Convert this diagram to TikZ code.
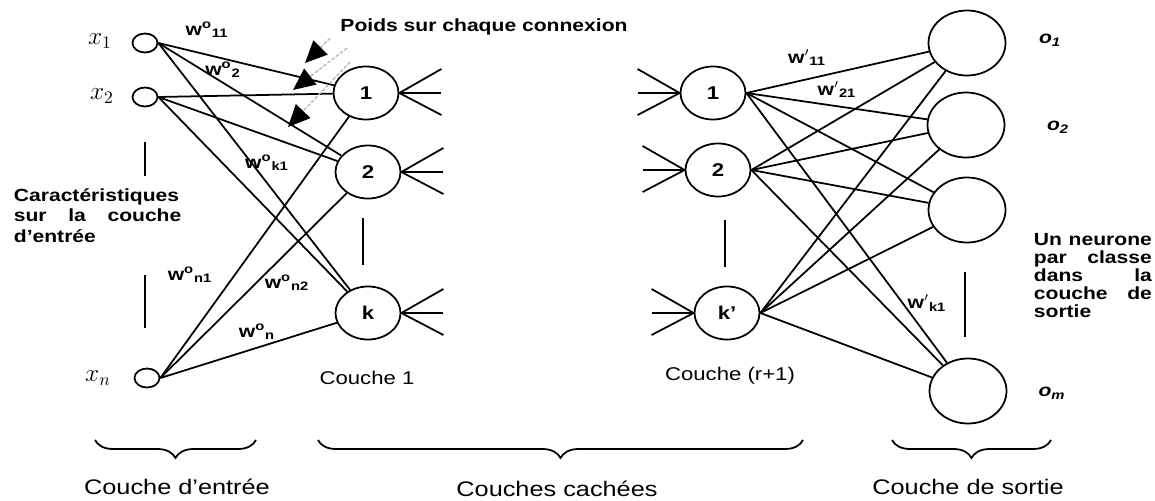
\documentclass[tikz,border=0pt]{standalone}
\usepackage{amsmath}
\usepackage{fontspec}
\setmainfont{Liberation Sans}[FakeStretch=1.2]
\usetikzlibrary{shapes.geometric,arrows.meta,decorations.pathreplacing}

% weight labels
\newcommand{\wgt}[2]{$\textbf{w}^{\text{#1}}{}_{\text{#2}}$}
\newcommand{\wpr}[1]{$\textbf{w}'{}_{\text{#1}}$}
\newcommand{\olab}[1]{\textbf{\textit{o\textsubscript{#1}}}}

\begin{document}
\begin{tikzpicture}[x=0.2mm,y=-0.2mm,line width=1pt,
  inp/.style={draw,ellipse,inner sep=0pt,minimum width=5mm,minimum height=3.8mm},
  neur/.style={draw,ellipse,inner sep=0pt,minimum width=13mm,minimum height=10.6mm,
    font=\fontsize{10.5}{12}\selectfont\bfseries},
  outn/.style={draw,ellipse,inner sep=0pt,minimum width=15.4mm,minimum height=13mm},
  wlab/.style={font=\fontsize{10}{12}\selectfont\bfseries,inner sep=0pt},
  note/.style={font=\fontsize{10}{11.5}\selectfont\bfseries,align=justify,inner sep=0pt},
  layer/.style={font=\fontsize{10.5}{12}\selectfont,inner sep=0pt},
  group/.style={font=\fontsize{12}{14}\selectfont,inner sep=0pt},
  hint/.style={draw=gray!55,line width=0.8pt,dash pattern=on 2pt off 1pt,
    -{Triangle[color=black,length=4.4mm,width=4mm]}},
  grp/.style={decorate,decoration={brace,mirror,amplitude=3.6mm}}]
  \useasboundingbox (0,0) rectangle (1155,500);

  % input layer
  \node[inp] (x1) at (145,43) {};
  \node[inp] (x2) at (145,97) {};
  \node[inp] (xn) at (147,378) {};
  \node (lx1) at (100,41) {\Large$x_1$};
  \node (lx2) at (102,96) {\Large$x_2$};
  \node (lxn) at (98,378) {\Large$x_n$};
  \draw (145,142) -- (145,176);
  \draw (145,275) -- (145,328);
  \node[note,text width=3.35cm,anchor=north west] (feat) at (13,188)
    {Caractéristiques sur la couche d'entrée};

  % first hidden layer
  \node[neur] (c1) at (366,93) {1};
  \node[neur] (c2) at (368,172) {2};
  \node[neur] (ck) at (368,313) {k};
  \draw (363,218) -- (363,265);
  \node[layer] (lc) at (367,378) {Couche 1};

  % hidden layer r+1
  \node[neur] (d1) at (713,93) {1};
  \node[neur] (d2) at (718,170) {2};
  \node[neur] (dk) at (727,313) {k'};
  \draw (725,220) -- (725,267);
  \node[layer] (ld) at (730,376) {Couche (r+1)};

  % output layer
  \node[outn] (o1) at (967,43) {};
  \node[outn] (o2) at (966,125) {};
  \node[outn] (o3) at (967,210) {};
  \node[outn] (om) at (968,391) {};
  \draw (965,272) -- (965,337);
  \node (lo1) at (1050,40) {\olab{1}};
  \node (lo2) at (1058,127) {\olab{2}};
  \node (lom) at (1052,393) {\olab{m}};
  \node[note,text width=2.36cm,anchor=north west,
    font=\fontsize{10}{10.2}\selectfont\bfseries] (cls) at (1033,233)
    {Un neurone par classe dans la couche de sortie};

  % connections
  \foreach \s in {x1,x2,xn}
    \foreach \t in {c1,c2,ck}
      \draw (\s.east) -- (\t);
  \foreach \t in {c1,c2,ck}
    \foreach \dy in {-24,0,22}
      \draw (\t.east) -- ++(42,\dy);
  \foreach \t in {d1,d2,dk}
    \foreach \dy in {-24,0,22}
      \draw (\t.west) -- ++(-42,\dy);
  \foreach \s in {d1,d2,dk}
    \foreach \t in {o1,o2,o3,om}
      \draw (\s.east) -- (\t);

  % weights
  \node[wlab] (w11) at (207,30) {\wgt{o}{11}};
  \node[wlab] (w21) at (223,70) {\wgt{o}{2}};
  \node[wlab] (wk1) at (267,163) {\wgt{o}{k1}};
  \node[wlab] (wn1) at (190,275) {\wgt{o}{n1}};
  \node[wlab] (wn2) at (287,283) {\wgt{o}{n2}};
  \node[wlab] (wn) at (257,332) {\wgt{o}{n}};
  \node[wlab] (v11) at (807,58) {\wpr{11}};
  \node[wlab] (v21) at (837,90) {\wpr{21}};
  \node[wlab] (vk1) at (927,303) {\wpr{k1}};

  % pointers to the weights
  \node[wlab] (poids) at (484,27) {Poids sur chaque connexion};
  \coordinate (p1) at (330,38);  \coordinate (q1) at (305,63);
  \coordinate (p2) at (347,48);  \coordinate (q2) at (293,90);
  \coordinate (p3) at (350,62);  \coordinate (q3) at (288,127);
  \draw[hint] (p1) -- (q1);
  \draw[hint] (p2) -- (q2);
  \draw[hint] (p3) -- (q3);

  % layer groups
  \draw[grp] (95,440) -- (256,440);
  \draw[grp] (318,440) -- (803,440);
  \draw[grp] (892,440) -- (1051,440);
  \node[group] (gin) at (177,487) {Couche d'entrée};
  \node[group] (ghid) at (557,489) {Couches cachées};
  \node[group] (gout) at (968,487) {Couche de sortie};
\end{tikzpicture}
\end{document}
